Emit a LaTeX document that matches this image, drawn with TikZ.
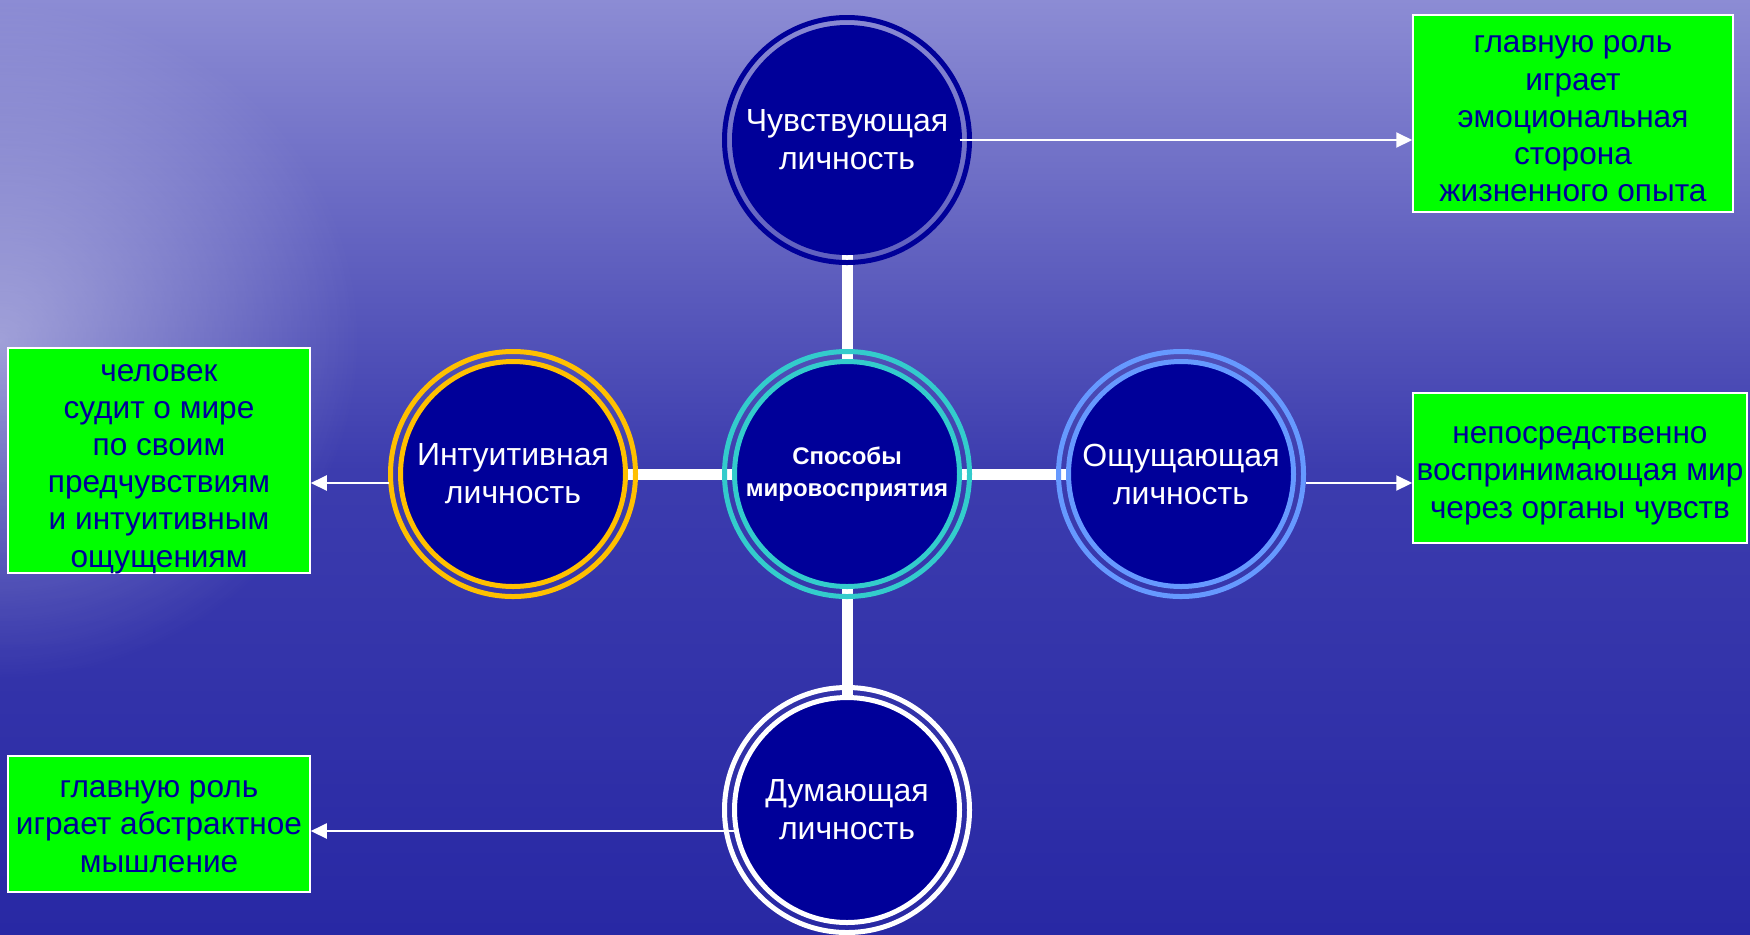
\documentclass[tikz,border=0pt]{standalone}
\usepackage{fontspec}
\setmainfont{Liberation Sans}
\usetikzlibrary{positioning, arrows.meta, backgrounds, fadings}

\definecolor{circfill}{HTML}{000099}
\definecolor{ringnavy}{HTML}{000099}
\definecolor{ringteal}{HTML}{33CCCC}
\definecolor{ringgold}{HTML}{FFC000}
\definecolor{ringblue}{HTML}{6699FF}
\definecolor{notegreen}{HTML}{00FF00}
\definecolor{notetext}{HTML}{000099}
\definecolor{skytop}{HTML}{8C8CD4}
\definecolor{seamid}{HTML}{3C3CAE}
\definecolor{seadeep}{HTML}{2828A4}

\tikzfading[name=glow, inner color=transparent!0, outer color=transparent!100]
\tikzfading[name=band, top color=transparent!100, middle color=transparent!0, bottom color=transparent!100]

\tikzset{person/.style={circle, fill=circfill, draw=#1, line width=2.5pt, outer sep=0pt, inner sep=0pt, minimum size=112.5pt, text=white, align=center, font=\fontsize{16}{19}\selectfont}}
\tikzset{hub/.style={person=#1, font=\fontsize{12}{16}\selectfont\bfseries}}
\tikzset{outring/.style={draw=#1, line width=2.5pt}}
\tikzset{note/.style={rectangle, fill=notegreen, draw=white, line width=0.75pt, inner sep=0pt, text=notetext, align=center, font=\fontsize{15.8}{18.6}\selectfont}}
\tikzset{bar/.style={draw=white, line width=5.5pt}}
\tikzset{arr/.style={draw=white, line width=1pt, -{Triangle[length=8pt, width=7.5pt]}}}

\begin{document}
\begin{tikzpicture}[x=0.5pt, y=-0.5pt]
	\useasboundingbox (0,0) rectangle (1750,934);
	\node[hub=ringteal] (C) at (847,474) {Способы\\мировосприятия};
	\node[person=ringnavy, above=54.5pt of C] (T) {Чувствующая\\личность};
	\node[person=ringgold, left=54.5pt of C] (I) {Интуитивная\\личность};
	\node[person=ringblue, right=54.5pt of C] (O) {Ощущающая\\личность};
	\node[person=white, below=55.5pt of C] (D) {Думающая\\личность};
	\foreach \n/\c in {C/ringteal, T/ringnavy, I/ringgold, O/ringblue, D/white}
		\draw[outring=\c] (\n.center) circle[radius=61.25pt];

	\node[note, minimum width=160pt, text height=93.4pt, text depth=5.2pt] (TN) at (1573,113.5)
		{главную роль\\играет\\эмоциональная\\сторона\\жизненного опыта};
	\node[note, minimum width=151pt, text height=109.5pt, text depth=3pt] (IN) at (159,460.5)
		{человек\\судит о мире\\по своим\\предчувствиям\\и интуитивным\\ощущениям};
	\node[note, minimum width=167pt, text height=62.5pt, text depth=12.5pt] (ON) at (1580,468)
		{непосредственно\\воспринимающая мир\\через органы чувств};
	\node[note, minimum width=151pt, text height=58pt, text depth=10pt] (DN) at (159,824)
		{главную роль\\играет абстрактное\\мышление};

	\draw[arr] (T.east) -- (T.east -| TN.west);
	\draw[arr] ([xshift=-6pt, yshift=-4.5pt]I.west) -- ([yshift=-4.5pt]I.west -| IN.east);
	\draw[arr] ([xshift=6pt, yshift=-4.5pt]O.east) -- ([yshift=-4.5pt]O.east -| ON.west);
	\draw[arr] ([yshift=-10.5pt]D.west) -- ([yshift=-10.5pt]D.west -| DN.east);

	% sea behind everything, then the cross
	\begin{pgfonlayer}{background}
		\shade[top color=skytop, bottom color=seamid] (0,0) rectangle (1750,470);
		\shade[top color=seamid, bottom color=seadeep] (0,470) rectangle (1750,934);
		\fill[white, opacity=.45, path fading=glow] (0,340) ellipse [x radius=360, y radius=340];
		\fill[white, opacity=.55, path fading=band] (0,40) rectangle (1750,95);
		\draw[bar] (T) -- (D);
		\draw[bar] (I) -- (O);
	\end{pgfonlayer}
\end{tikzpicture}
\end{document}
